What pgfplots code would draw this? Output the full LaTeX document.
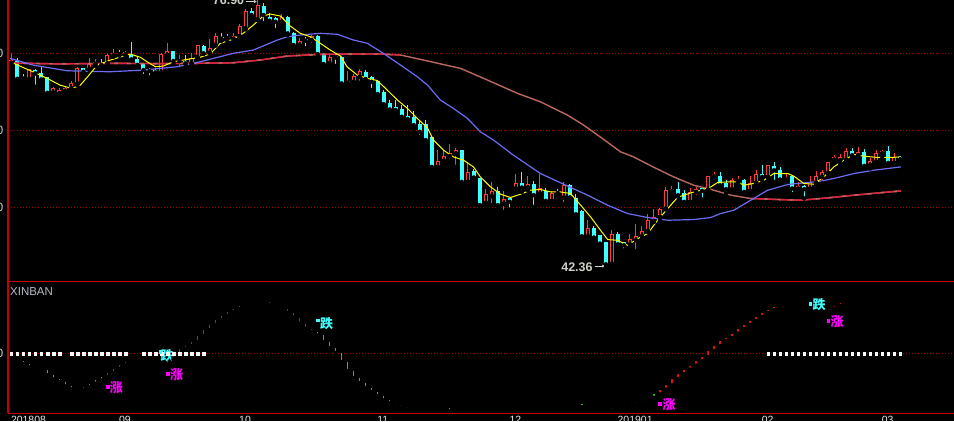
\documentclass[border=0pt]{standalone}
\usepackage{fontspec}
\setmainfont{Liberation Sans}
\newfontfamily\cjk{Noto Sans CJK SC}
\usepackage{pgfplots}
\usepackage{pgfplotstable}
\usetikzlibrary{arrows.meta,backgrounds}
\pgfplotsset{compat=1.18}

\definecolor{upred}{HTML}{FF3C3C}
\definecolor{dncyan}{HTML}{40FFFF}
\definecolor{maA}{HTML}{FFFF00}
\definecolor{maB}{HTML}{6C6CF4}
\definecolor{maC}{HTML}{B86860}
\definecolor{maCr}{HTML}{E0203C}
\definecolor{gridred}{HTML}{A80000}
\definecolor{framered}{HTML}{C40000}
\definecolor{indred}{HTML}{E01010}
\definecolor{indgreen}{HTML}{20D020}
\definecolor{lbl}{HTML}{D0D0C8}
\definecolor{datec}{HTML}{E8E8E8}
\definecolor{xinc}{HTML}{B4BCC4}
\definecolor{mag}{HTML}{FF00FF}

\pgfplotstableread{
i O H L C
0 68.78 70.00 68.70 69.13
1 69.04 69.35 66.44 66.70
2 66.83 67.31 66.40 66.72
3 66.70 67.92 66.10 67.92
4 67.83 67.92 65.66 67.40
5 67.48 68.35 66.53 66.62
6 66.88 66.96 64.58 64.88
7 64.93 65.58 64.36 65.45
8 64.80 65.45 64.58 65.23
9 65.14 65.75 64.80 65.53
10 65.45 66.40 65.32 66.10
11 66.10 68.26 65.88 68.05
12 68.05 68.13 67.31 67.61
13 67.92 69.35 67.83 68.61
14 68.61 69.22 68.39 68.91
15 68.78 69.22 68.26 68.48
16 68.70 69.87 68.48 69.78
17 69.74 70.52 69.56 70.00
18 70.08 70.43 69.69 69.91
19 69.87 70.30 69.69 70.17
20 69.91 71.47 69.13 69.22
21 69.22 69.56 68.35 68.48
22 68.61 68.70 67.05 67.83
23 67.92 68.05 66.88 67.70
24 67.79 68.05 67.05 67.53
25 67.53 70.00 67.40 69.91
26 69.78 71.38 69.65 70.30
27 70.30 70.30 68.70 69.00
28 69.00 69.78 67.92 69.10
29 68.96 69.78 68.61 68.70
30 68.70 70.08 68.35 69.43
31 69.48 71.08 69.35 71.08
32 70.95 71.08 69.91 70.00
33 70.08 71.82 70.00 70.69
34 71.08 72.67 70.98 72.25
35 72.16 72.60 71.63 71.90
36 72.16 72.47 71.50 71.99
37 71.90 72.67 71.73 72.25
38 72.25 73.80 72.07 73.54
39 73.24 75.71 73.11 75.49
40 75.49 75.84 74.75 74.97
41 74.41 76.90 74.32 76.27
42 76.14 76.49 73.89 74.97
43 74.67 75.19 73.80 74.23
44 74.54 74.75 73.02 74.10
45 74.10 75.10 73.97 74.67
46 74.75 74.84 72.37 72.60
47 72.60 72.80 70.52 71.08
48 71.08 71.95 70.65 71.63
49 71.82 72.16 70.65 71.63
50 71.73 72.37 71.08 72.25
51 72.25 72.37 69.56 69.91
52 69.78 70.00 68.48 68.61
53 68.70 69.78 68.48 69.48
54 69.65 69.78 68.35 69.48
55 69.48 69.65 65.75 66.10
56 66.18 67.74 66.10 66.44
57 66.31 67.31 65.88 67.05
58 66.96 67.92 66.18 67.70
59 67.57 67.83 66.10 66.66
60 66.96 67.05 65.23 66.31
61 66.40 66.53 64.58 64.71
62 64.97 65.23 62.99 63.41
63 63.50 63.93 62.50 62.72
64 63.06 63.93 62.21 62.63
65 62.80 63.28 61.25 61.77
66 61.86 63.28 60.91 61.47
67 61.77 62.50 60.26 60.69
68 60.82 61.34 59.17 59.82
69 60.82 61.34 58.48 58.74
70 59.09 59.26 54.75 55.27
71 55.27 57.44 55.19 56.01
72 56.05 57.44 55.49 56.66
73 56.66 58.22 56.05 57.01
74 57.01 57.66 55.27 57.44
75 57.44 57.44 52.76 53.32
76 53.32 55.79 53.32 54.62
77 54.75 55.06 53.76 53.89
78 53.89 53.89 50.30 50.30
79 50.60 52.34 50.08 51.73
80 51.47 53.32 50.30 52.12
81 52.12 52.67 50.17 50.30
82 50.52 52.15 49.43 51.17
83 51.30 51.30 49.74 50.73
84 52.47 54.41 52.25 53.12
85 53.20 54.62 52.02 52.59
86 52.59 54.06 52.25 53.02
87 53.02 53.45 50.08 51.60
88 51.82 54.41 51.73 52.47
89 52.15 52.47 50.73 50.86
90 50.86 52.15 50.73 51.90
91 52.12 52.41 51.47 51.90
92 51.30 53.32 50.43 52.89
93 52.89 53.02 51.30 51.30
94 51.30 51.73 49.00 49.13
95 49.56 49.74 46.18 46.27
96 46.27 48.35 46.18 47.40
97 47.40 47.57 45.75 46.10
98 46.40 46.40 45.23 45.32
99 45.53 45.53 42.36 42.63
100 42.73 47.14 42.63 46.62
101 46.62 46.83 44.88 45.23
102 45.53 45.53 44.45 45.10
103 45.23 46.62 44.67 45.88
104 45.75 47.83 44.36 46.27
105 46.27 47.57 45.84 46.96
106 46.96 49.13 46.83 48.35
107 48.26 49.87 48.13 48.78
108 48.78 50.00 48.35 49.87
109 49.87 52.67 49.74 52.25
110 52.15 52.76 51.60 52.34
111 52.34 53.32 51.38 51.60
112 51.82 52.25 50.52 50.73
113 50.73 52.47 50.30 52.02
114 52.02 52.67 51.38 52.34
115 52.55 52.67 51.04 52.15
116 52.34 54.06 52.00 54.06
117 54.06 54.62 53.76 54.41
118 54.06 54.62 52.67 52.89
119 53.12 53.54 51.82 52.38
120 52.38 53.89 52.25 53.54
121 53.45 54.06 53.12 53.76
122 53.63 53.76 51.90 52.02
123 52.15 54.06 51.82 53.20
124 53.20 54.93 53.12 54.32
125 54.32 55.49 53.54 53.97
126 53.97 55.49 53.89 55.49
127 55.36 55.92 53.32 54.84
128 54.93 55.27 53.32 53.63
129 53.63 54.41 53.54 53.89
130 54.06 54.19 51.73 52.47
131 52.47 53.32 52.15 52.76
132 52.76 52.89 51.17 52.38
133 52.47 54.06 52.38 53.32
134 53.20 54.75 53.12 54.06
135 53.97 54.93 53.12 54.62
136 54.49 55.92 54.32 55.92
137 56.23 56.79 56.05 56.49
138 56.14 56.88 55.71 56.49
139 56.23 57.66 55.92 57.31
140 57.31 57.66 56.66 56.79
141 56.79 57.87 56.66 57.14
142 57.14 57.53 55.06 55.40
143 55.49 56.36 55.06 56.01
144 55.92 57.44 55.79 57.01
145 57.01 57.44 56.57 57.31
146 57.31 57.96 55.49 55.79
147 55.79 57.01 55.79 56.49
148 56.49 56.62 56.18 56.27
}\candles

% indicator: v = value, p = previous value, c = 1 red / 0 green
\pgfplotstableread{
i v p c
0 -6.0 -4.3 0
1 -7.7 -6.0 0
2 -10.7 -7.7 0
3 -14.0 -10.7 0
4 -15.3 -14.0 0
5 -17.0 -15.3 0
6 -22.0 -17.0 0
7 -26.0 -22.0 0
8 -29.0 -26.0 0
9 -33.0 -29.0 0
10 -36.0 -33.0 0
11 -36.3 -36.0 0
12 -33.7 -36.3 0
13 -30.3 -33.7 0
14 -27.0 -30.3 0
15 -24.0 -27.0 0
16 -20.0 -24.0 1
17 -15.7 -20.0 1
18 -12.0 -15.7 1
19 -9.0 -12.0 1
20 -7.0 -9.0 1
21 -5.7 -7.0 1
22 -8.3 -5.7 1
23 -10.3 -8.3 0
24 -12.7 -10.3 0
25 -11.3 -12.7 0
26 -5.7 -11.3 1
27 -0.7 -5.7 1
28 4.0 -0.7 1
29 7.3 4.0 1
30 11.3 7.3 1
31 17.0 11.3 1
32 23.0 17.0 1
33 28.0 23.0 1
34 33.0 28.0 1
35 37.0 33.0 1
36 41.0 37.0 1
37 44.3 41.0 1
38 47.0 44.3 1
39 49.7 47.0 1
40 50.7 49.7 1
41 51.7 50.7 1
42 51.3 51.7 1
43 48.3 51.3 1
44 46.3 48.3 1
45 44.3 46.3 1
46 40.3 44.3 1
47 35.7 40.3 1
48 29.7 35.7 1
49 24.3 29.7 1
50 21.3 24.3 1
51 18.0 21.3 0
52 11.3 18.0 0
53 5.3 11.3 0
54 0.3 5.3 0
55 -8.7 0.3 0
56 -17.7 -8.7 0
57 -24.7 -17.7 0
58 -29.7 -24.7 0
59 -34.7 -29.7 0
60 -38.7 -34.7 0
61 -42.7 -38.7 0
62 -47.0 -42.7 0
63 -49.7 -47.0 0
64 -52.0 -49.7 0
65 -54.0 -52.0 0
66 -56.0 -54.0 0
67 -56.7 -56.0 0
68 -56.8 -56.7 0
69 -57.3 -56.8 0
70 -57.4 -57.3 0
71 -57.7 -57.4 0
72 -57.8 -57.7 0
73 -55.0 -57.8 0
74 -53.7 -55.0 0
75 -53.5 -53.7 0
76 -53.0 -53.5 0
77 -53.7 -53.0 0
78 -54.7 -53.7 0
79 -55.7 -54.7 0
80 -55.7 -55.7 0
81 -55.8 -55.7 0
82 -55.8 -55.8 0
83 -55.7 -55.8 0
84 -53.7 -55.7 0
85 -52.3 -53.7 0
86 -51.0 -52.3 0
87 -50.7 -51.0 0
88 -49.7 -50.7 0
89 -49.6 -49.7 0
90 -49.6 -49.6 0
91 -49.6 -49.6 0
92 -49.6 -49.6 0
93 -49.7 -49.6 0
94 -51.0 -49.7 0
95 -53.7 -51.0 0
96 -54.3 -53.7 0
97 -55.0 -54.3 0
98 -55.7 -55.0 0
99 -56.7 -55.7 0
100 -54.7 -56.7 0
101 -53.7 -54.7 0
102 -51.7 -53.7 0
103 -50.7 -51.7 0
104 -48.7 -50.7 0
105 -46.3 -48.7 0
106 -44.3 -46.3 0
107 -41.0 -44.3 0
108 -36.3 -41.0 1
109 -32.0 -36.3 1
110 -25.7 -32.0 1
111 -21.0 -25.7 1
112 -16.3 -21.0 1
113 -12.3 -16.3 1
114 -8.0 -12.3 1
115 -3.7 -8.0 1
116 2.3 -3.7 1
117 7.3 2.3 1
118 12.3 7.3 1
119 15.3 12.3 1
120 19.7 15.3 1
121 24.3 19.7 1
122 28.3 24.3 1
123 32.3 28.3 1
124 36.3 32.3 1
125 40.3 36.3 1
126 43.0 40.3 1
127 46.3 43.0 1
128 47.3 46.3 1
129 47.0 47.3 1
130 45.0 47.0 1
131 43.3 45.0 1
132 41.0 43.3 1
133 39.3 41.0 0
134 39.2 39.3 0
135 41.7 39.2 0
136 44.3 41.7 1
137 47.0 44.3 1
138 50.3 47.0 1
139 52.3 50.3 1
140 54.0 52.3 1
141 54.7 54.0 1
142 54.3 54.7 1
143 53.0 54.3 1
144 52.3 53.0 1
145 52.0 52.3 1
146 51.7 52.0 1
147 51.0 51.7 1
148 50.7 51.0 1
}\indtab

\pgfplotstableread{
i p
-0.2 68.74
8.1 68.63
16.45 68.70
24.8 68.67
31.45 68.71
36.95 68.78
41.45 69.13
45.95 69.65
51.45 69.87
58.1 69.91
61.45 69.91
64.8 69.78
68.1 69.22
74.8 68.05
79.3 66.53
84.3 64.80
88.1 63.71
92.6 61.99
95.3 60.69
98.1 59.13
101.45 57.22
103.6 56.57
106.95 55.23
110.3 53.97
113.6 52.89
115.95 52.47
119.8 51.60
123.1 51.17
127.6 51.04
131.45 50.95
135.95 51.25
140.3 51.60
144.3 51.89
148.1 52.15
}\maCtab

\begin{document}
\begin{tikzpicture}[show background rectangle, inner frame sep=0pt,
  background rectangle/.style={fill=black, draw=none}]

\begin{axis}[name=main, scale only axis,
  width=946bp, height=281bp,
  xmin=-0.55, xmax=157.12, ymin=40.43, ymax=76.92,
  axis line style={draw=none}, major tick length=0pt,
  xtick=\empty, ytick={50,60,70}, yticklabels={50,60,70},
  yticklabel style={anchor=east, inner sep=0pt, xshift=-4.5bp,
    font=\fontsize{12}{12}\selectfont, text=lbl},
  ymajorgrids, major grid style={gridred, line width=1bp, dash pattern=on 1bp off 2bp}]

% down candles: wicks and bodies
\addplot[only marks, mark=none,
  restrict expr to domain={\thisrow{C}-\thisrow{O}}{-100:-0.000001},
  error bars/.cd, y dir=plus, y explicit, error mark=none,
  error bar style={draw=dncyan, line width=1bp}]
  table[x=i, y=L, y error plus expr={\thisrow{H}-\thisrow{L}}] {\candles};
\addplot[only marks, mark=none,
  restrict expr to domain={\thisrow{C}-\thisrow{O}}{-100:-0.000001},
  error bars/.cd, y dir=plus, y explicit, error mark=none,
  error bar style={draw=dncyan, line width=4bp}]
  table[x=i, y=C, y error plus expr={max(\thisrow{O}-\thisrow{C},0.13)}] {\candles};
% up candles: wicks, bodies, hollow inside
\addplot[only marks, mark=none,
  restrict expr to domain={\thisrow{C}-\thisrow{O}}{0:100},
  error bars/.cd, y dir=plus, y explicit, error mark=none,
  error bar style={draw=upred, line width=1bp}]
  table[x=i, y=L, y error plus expr={\thisrow{H}-\thisrow{L}}] {\candles};
\addplot[only marks, mark=none,
  restrict expr to domain={\thisrow{C}-\thisrow{O}}{0:100},
  error bars/.cd, y dir=plus, y explicit, error mark=none,
  error bar style={draw=upred, line width=4bp}]
  table[x=i, y=O, y error plus expr={max(\thisrow{C}-\thisrow{O},0.13)}] {\candles};
\addplot[only marks, mark=none,
  restrict expr to domain={\thisrow{C}-\thisrow{O}}{0.3:100},
  error bars/.cd, y dir=plus, y explicit, error mark=none,
  error bar style={draw=black, line width=2bp, shorten <=1bp, shorten >=1bp}]
  table[x=i, y=O, y error plus expr={\thisrow{C}-\thisrow{O}}] {\candles};

% long moving average
\addplot[maC, line width=1.4bp] table[x=i, y=p] {\maCtab};
\addplot[maCr, line width=1.4bp, restrict x to domain=-1:65] table[x=i, y=p] {\maCtab};
\addplot[maCr, line width=1.4bp, restrict x to domain=123:150] table[x=i, y=p] {\maCtab};
\addplot[maC, line width=1.4bp, dash pattern=on 4bp off 9bp, restrict x to domain=-1:65] table[x=i, y=p] {\maCtab};
\addplot[maC, line width=1.4bp, dash pattern=on 4bp off 9bp, restrict x to domain=123:150] table[x=i, y=p] {\maCtab};

% medium moving average
\addplot[maB, line width=1.2bp] coordinates {
(-0.2,69.35)(3.6,68.48)(9.3,67.74)(16.45,67.61)(21.95,67.83)(27.6,68.26)(31.45,68.91)
(36.95,70.00)(40.3,70.43)(44.3,71.73)(45.95,72.15)(48.1,72.37)(51.45,72.60)(54.3,72.47)
(56.95,71.73)(59.3,71.30)(61.95,70.00)(64.8,68.48)(67.6,66.96)(69.3,65.88)(71.45,63.93)
(73.6,62.86)(75.95,61.56)(78.1,59.82)(80.3,58.74)(83.6,56.79)(88.1,54.41)(91.95,53.02)
(95.95,51.60)(99.3,50.30)(102.6,49.22)(105.95,48.70)(109.3,48.35)(113.6,48.44)(116.45,48.70)
(118.1,49.22)(120.3,49.65)(123.1,50.95)(125.95,52.25)(129.3,52.99)(132.6,53.25)(134.8,53.41)
(137.6,53.89)(140.3,54.41)(143.6,54.84)(148.1,55.27)};

% short moving average
\addplot[maA, line width=1bp] coordinates {
(-0.2,68.91)(3.6,67.61)(6.0,66.75)(8.1,65.88)(10.1,65.45)(11.5,65.88)(12.8,67.05)(14.3,68.48)
(16.5,69.13)(19.8,69.91)(21.5,69.48)(22.6,68.91)(24.0,68.26)(25.3,68.35)(27.0,68.91)(29.3,69.22)
(31.4,69.48)(33.1,69.91)(34.8,71.30)(36.9,71.82)(38.6,72.60)(40.3,73.67)(41.95,74.84)(43.1,75.10)
(44.8,74.84)(46.45,73.54)(48.1,72.60)(49.8,72.15)(51.45,71.30)(53.1,70.43)(54.8,69.65)(55.9,68.26)
(57.6,67.18)(59.3,66.75)(60.95,66.47)(62.6,65.23)(64.3,63.93)(65.95,62.86)(67.6,61.56)(69.3,60.30)
(70.3,58.74)(71.95,57.44)(73.6,56.57)(75.3,56.14)(76.95,55.27)(78.1,53.97)(79.8,52.67)(81.45,51.73)
(83.1,51.30)(84.8,51.73)(86.45,52.25)(88.1,52.34)(89.8,52.02)(91.45,52.02)(93.1,51.82)(94.8,50.30)
(96.45,48.78)(98.1,47.05)(99.3,45.84)(100.95,45.75)(102.6,45.10)(104.3,45.97)(105.95,46.62)
(107.6,48.35)(109.3,49.87)(110.95,51.34)(113.1,51.89)(114.8,52.25)(116.45,52.67)(117.6,53.25)
(119.3,53.32)(120.95,53.32)(121.95,52.89)(123.6,53.12)(125.3,53.54)(126.95,54.41)(129.3,54.41)
(130.3,54.06)(131.95,53.12)(133.6,53.02)(135.3,53.97)(136.95,55.27)(138.6,56.14)(140.3,56.88)
(141.95,56.66)(144.3,56.49)(146.45,56.49)(148.0,56.57)};

% high / low annotations
\draw[lbl, line width=1bp, -{Latex[length=3bp,width=3.5bp]}] (axis cs:39.1,76.72) -- (axis cs:40.9,76.72);
\node[anchor=base east, inner sep=0pt, text=lbl, font=\bfseries\fontsize{12.5}{12.5}\selectfont]
  at (axis cs:38.8,76.30) {76.90};
\draw[lbl, line width=1bp, -{Latex[length=3bp,width=3.5bp]}] (axis cs:97.1,42.40) -- (axis cs:98.9,42.40);
\node[anchor=base east, inner sep=0pt, text=lbl, font=\bfseries\fontsize{12.5}{12.5}\selectfont]
  at (axis cs:96.8,41.75) {42.36};
\end{axis}

\begin{axis}[name=ind, at={(main.south west)}, anchor=north west, scale only axis,
  width=946bp, height=132bp,
  xmin=-0.55, xmax=157.12, ymin=-60, ymax=72,
  axis line style={draw=none}, major tick length=0pt,
  xtick={0,18,38,61,83,101,125,145},
  xticklabels={201808,09,10,11,12,201901,02,03},
  xticklabel style={anchor=north west, inner sep=0pt, yshift=-3bp, xshift=-0.5bp,
    font=\fontsize{10.5}{10.5}\selectfont, text=datec},
  ytick={0}, yticklabels={0},
  yticklabel style={anchor=east, inner sep=0pt, xshift=-4.5bp,
    font=\fontsize{12}{12}\selectfont, text=lbl},
  ymajorgrids, major grid style={gridred, line width=1bp, dash pattern=on 1bp off 2bp}]

\addplot[only marks, mark=none,
  restrict expr to domain={\thisrow{c}}{0.5:1.5},
  error bars/.cd, y dir=plus, y explicit, error mark=none,
  error bar style={draw=indred, line width=1.3bp}]
  table[x=i, y expr={min(\thisrow{v},\thisrow{p})},
        y error plus expr={max(abs(\thisrow{v}-\thisrow{p}),1.2)}] {\indtab};
\addplot[only marks, mark=none,
  restrict expr to domain={\thisrow{c}}{-0.5:0.5},
  error bars/.cd, y dir=plus, y explicit, error mark=none,
  error bar style={draw=indgreen, line width=1.3bp}]
  table[x=i, y expr={min(\thisrow{v},\thisrow{p})},
        y error plus expr={max(abs(\thisrow{v}-\thisrow{p}),1.2)}] {\indtab};

% white squares on the zero line
\addplot[only marks, mark=square*, mark size=1.35bp, draw=white, fill=white] table[x=i, y=z] {
i z
0 0
1 0
2 0
3 0
4 0
5 0
6 0
7 0
8 0
10 0
11 0
12 0
13 0
14 0
15 0
16 0
17 0
18 0
19 0
22 0
23 0
24 0
25 0
26 0
27 0
28 0
29 0
30 0
31 0
32 0
126 0
127 0
128 0
129 0
130 0
131 0
132 0
133 0
134 0
135 0
136 0
137 0
138 0
139 0
140 0
141 0
142 0
143 0
144 0
145 0
146 0
147 0
148 0
};

% signal markers
\addplot[only marks, mark=square*, mark size=1.35bp, draw=mag, fill=mag]
  coordinates {(16,-33) (26,-20.3) (108,-50.3) (136,32.7)};
\addplot[only marks, mark=square*, mark size=1.35bp, draw=dncyan, fill=dncyan]
  coordinates {(24.8,1.5) (51,33) (133,49.7)};
\node[text=mag, inner sep=0pt, font=\cjk\bfseries\fontsize{13}{13}\selectfont] at (axis cs:17.5,-34) {涨};
\node[text=mag, inner sep=0pt, font=\cjk\bfseries\fontsize{13}{13}\selectfont] at (axis cs:27.5,-21) {涨};
\node[text=mag, inner sep=0pt, font=\cjk\bfseries\fontsize{13}{13}\selectfont] at (axis cs:109.5,-51) {涨};
\node[text=mag, inner sep=0pt, font=\cjk\bfseries\fontsize{13}{13}\selectfont] at (axis cs:137.5,32) {涨};
\node[text=dncyan, inner sep=0pt, font=\cjk\bfseries\fontsize{13}{13}\selectfont] at (axis cs:25.95,-2) {跌};
\node[text=dncyan, inner sep=0pt, font=\cjk\bfseries\fontsize{13}{13}\selectfont] at (axis cs:52.5,29.7) {跌};
\node[text=dncyan, inner sep=0pt, font=\cjk\bfseries\fontsize{13}{13}\selectfont] at (axis cs:134.5,49) {跌};
\end{axis}

% panel frames
\draw[framered, line width=1.6bp] (ind.south west) -- (main.north west);
\draw[framered, line width=1.5bp] (main.south west) -- (main.south east);
\draw[framered, line width=1.5bp] (ind.south west) -- (ind.south east);
\node[anchor=north west, inner sep=0pt, text=xinc, font=\fontsize{11.5}{11.5}\selectfont]
  at ([shift={(2bp,-6bp)}]ind.north west) {XINBAN};

\pgfresetboundingbox
\path[use as bounding box] ([shift={(-8bp,-8bp)}]ind.south west) rectangle ([shift={(-1bp,0bp)}]main.north east);
\end{tikzpicture}
\end{document}
